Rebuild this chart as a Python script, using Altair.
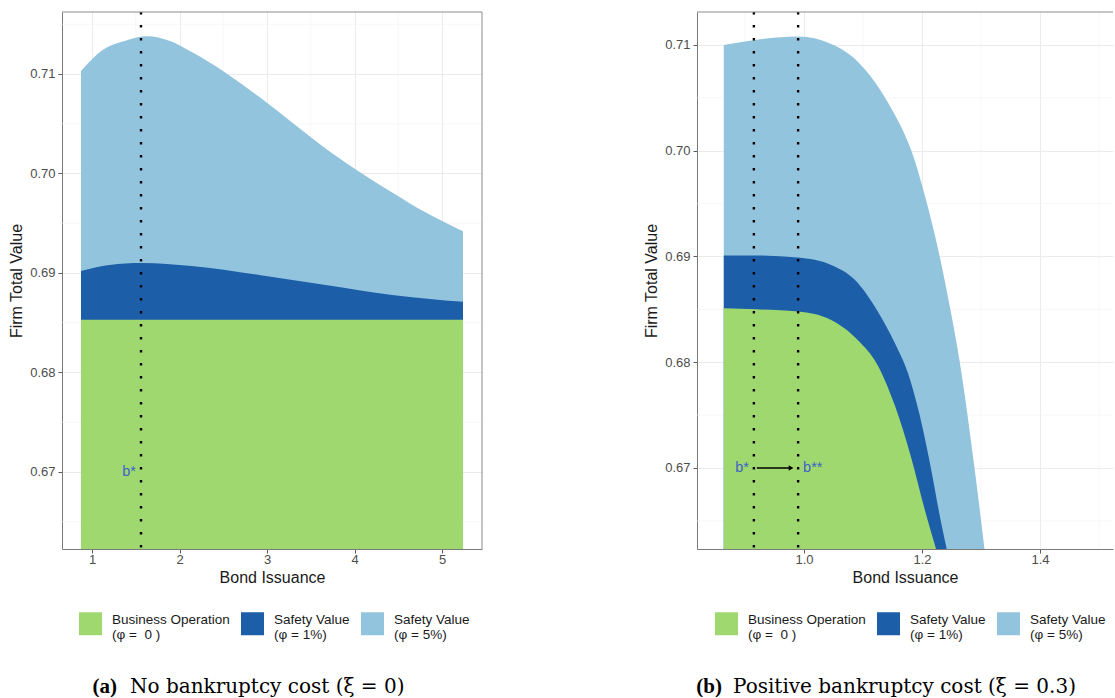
import altair as alt
import pandas as pd

# ---------------- data ----------------
NB = "\u00a0"
SERIES_KEYS = ["oper", "s1", "s5"]
SERIES_LABELS = [
    "Business Operation\n" + NB + "(φ =" + NB + NB + "0" + NB + ")",
    "Safety Value\n" + NB + "(φ = 1%)",
    "Safety Value\n" + NB + "(φ = 5%)",
]
SERIES_COLORS = ["#a0d870", "#1c5ea8", "#93c4de"]

# Panel (a): no bankruptcy cost
A_X_OPER = [0.874, 5.24]
A_Y_OPER = [0.6853, 0.6853]
A_X_S1 = [0.874, 1.2, 1.57, 2.14, 2.91, 3.67, 4.43, 5.24]
A_Y_S1 = [0.6902, 0.6908, 0.6910, 0.6907, 0.6898, 0.6888, 0.6878, 0.6871]
A_X_S5 = [0.874, 1.12, 1.4, 1.62, 1.9, 2.14, 2.53, 2.91, 3.29, 3.67, 4.05, 4.43, 4.81, 5.24]
A_Y_S5 = [0.7103, 0.7124, 0.7134, 0.7138, 0.7133, 0.7122, 0.7101, 0.7077, 0.7051, 0.7025, 0.7002, 0.6981, 0.6961, 0.6942]
A_BSTAR = [1.56]

# Panel (b): positive bankruptcy cost
B_X_OPER = [0.864, 0.92, 0.99, 1.046, 1.091, 1.125, 1.154, 1.182, 1.204, 1.224]
B_Y_OPER = [0.6851, 0.6850, 0.6848, 0.6840, 0.6821, 0.6797, 0.6759, 0.6709, 0.6662, 0.6623]
B_X_S1 = [0.864, 0.92, 0.99, 1.046, 1.086, 1.125, 1.154, 1.176, 1.196, 1.215, 1.230, 1.242]
B_Y_S1 = [0.6901, 0.6901, 0.6899, 0.6892, 0.6878, 0.6848, 0.6818, 0.6790, 0.6750, 0.6700, 0.6655, 0.6623]
B_X_S5 = [0.864, 0.92, 0.99, 1.046, 1.086, 1.120, 1.148, 1.171, 1.182, 1.206, 1.230, 1.248, 1.264, 1.289, 1.306]
B_Y_S5 = [0.7100, 0.7105, 0.7108, 0.7101, 0.7087, 0.7065, 0.7040, 0.7015, 0.7000, 0.6955, 0.6900, 0.6850, 0.6800, 0.6700, 0.6623]
B_BSTAR = [0.915, 0.99]
B_ARROW = [0.920, 0.978]  # arrow from b* to b**
ANNOT_Y = 0.67

A_X_TICKS = [1, 2, 3, 4, 5]
A_X_MINOR = [1.5, 2.5, 3.5, 4.5]
A_Y_TICKS = [0.67, 0.68, 0.69, 0.70, 0.71]
A_Y_MINOR = [0.665, 0.675, 0.685, 0.695, 0.705, 0.715]
B_X_TICKS = [1.0, 1.2, 1.4]
B_X_MINOR = [0.9, 1.1, 1.3, 1.5]
B_Y_TICKS = [0.67, 0.68, 0.69, 0.70, 0.71]
B_Y_MINOR = [0.665, 0.675, 0.685, 0.695, 0.705]

CAPTION_A = ("(a)", "No bankruptcy cost (ξ = 0)")
CAPTION_B = ("(b)", "Positive bankruptcy cost (ξ = 0.3)")

# ---------------- layout constants ----------------
H = 537
WA = 420
WB = 416
A_XDOM = [0.657, 5.457]
A_YDOM = [0.66226, 0.71623]
B_XDOM = [0.8186, 1.5237]
B_YDOM = [0.66234, 0.71312]
FONT = "Liberation Sans"
BLUE_TXT = "#3d63c9"


def long_df(xs_list, ys_list):
    rows = []
    for key, lab, xs, ys in zip(SERIES_KEYS, SERIES_LABELS, xs_list, ys_list):
        for x, y in zip(xs, ys):
            rows.append({"x": x, "y": y, "k": key, "s": lab})
    return pd.DataFrame(rows)


def panel(df, xdom, ydom, xticks, xminor, yticks, yminor, xfmt, width, bstar,
          caption, cap_x, legend_x, arrow=None, right_border=True):
    xs = alt.Scale(domain=xdom, nice=False, zero=False)
    ys = alt.Scale(domain=ydom, nice=False, zero=False)
    xax = alt.Axis(values=xticks, format=xfmt, title="Bond Issuance", grid=True)
    yax = alt.Axis(values=yticks, format=".2f", title="Firm Total Value", grid=True)
    X = lambda f="x": alt.X(f, type="quantitative", scale=xs, axis=xax)
    Y = lambda f="y": alt.Y(f, type="quantitative", scale=ys, axis=yax)

    legend = alt.Legend(
        orient="none", legendX=legend_x, legendY=600, direction="horizontal", title=None,
        symbolType="square", symbolSize=529, symbolStrokeWidth=0, symbolOpacity=1,
        labelFont=FONT, labelFontSize=13.5, labelColor="#1a1a1a", labelOffset=10,
        labelBaseline="alphabetic",
        columnPadding=11, padding=0, labelLimit=0,
        labelExpr="split(datum.label, '\\n')",
    )
    color = alt.Color("s:N", scale=alt.Scale(domain=SERIES_LABELS, range=SERIES_COLORS), legend=legend)

    layers = []
    # minor grid
    layers.append(alt.Chart(pd.DataFrame({"x": xminor})).mark_rule(color="#f2f2f2", strokeWidth=0.6).encode(x=X()))
    layers.append(alt.Chart(pd.DataFrame({"y": yminor})).mark_rule(color="#f2f2f2", strokeWidth=0.6).encode(y=Y()))
    # areas (light blue first, green on top)
    for key in ["s5", "s1", "oper"]:
        layers.append(
            alt.Chart(df).transform_filter(alt.datum.k == key)
            .mark_area(interpolate="monotone", clip=True, opacity=1)
            .encode(x=X(), y=Y(), y2=alt.value(H), color=color)
        )
    # dotted b* lines
    layers.append(
        alt.Chart(pd.DataFrame({"x": bstar})).mark_rule(color="black", strokeWidth=2.4, strokeDash=[2.4, 10.6])
        .encode(x=X())
    )
    # labels
    layers.append(
        alt.Chart(pd.DataFrame({"x": [bstar[0]], "y": [ANNOT_Y], "t": ["b*"]}))
        .mark_text(align="right", dx=-5, baseline="middle", font=FONT, fontSize=14.5, color=BLUE_TXT)
        .encode(x=X(), y=Y(), text="t:N")
    )
    if len(bstar) > 1:
        layers.append(
            alt.Chart(pd.DataFrame({"x": [bstar[1]], "y": [ANNOT_Y], "t": ["b**"]}))
            .mark_text(align="left", dx=5, baseline="middle", font=FONT, fontSize=14.5, color=BLUE_TXT)
            .encode(x=X(), y=Y(), text="t:N")
        )
    if arrow is not None:
        layers.append(
            alt.Chart(pd.DataFrame({"x": [arrow[0]], "x2": [arrow[1]], "y": [ANNOT_Y]}))
            .mark_rule(color="black", strokeWidth=1.5)
            .encode(x=X(), x2="x2:Q", y=Y())
        )
        layers.append(
            alt.Chart(pd.DataFrame({"x": [arrow[1]], "y": [ANNOT_Y]}))
            .mark_point(shape="triangle-right", filled=True, size=30, color="black", opacity=1)
            .encode(x=X(), y=Y())
        )
    # frame: top and right
    layers.append(
        alt.Chart(pd.DataFrame({"a": [0]})).mark_rule(color="#8c8c8c", strokeWidth=1)
        .encode(x=alt.value(0), x2=alt.value(width), y=alt.value(0))
    )
    if right_border:
        layers.append(
            alt.Chart(pd.DataFrame({"a": [0]})).mark_rule(color="#8c8c8c", strokeWidth=1)
            .encode(x=alt.value(width), y=alt.value(0), y2=alt.value(H))
        )
    # caption
    layers.append(
        alt.Chart(pd.DataFrame({"t": [caption[0]]}))
        .mark_text(align="right", baseline="middle", font="Liberation Serif", fontSize=21, fontWeight="bold", color="black")
        .encode(x=alt.value(cap_x[0]), y=alt.value(675), text="t:N")
    )
    layers.append(
        alt.Chart(pd.DataFrame({"t": [caption[1]]}))
        .mark_text(align="left", baseline="middle", font="DejaVu Serif", fontSize=20, color="black")
        .encode(x=alt.value(cap_x[1]), y=alt.value(675), text="t:N")
    )
    return alt.layer(*layers).properties(width=width, height=H)


df_a = long_df([A_X_OPER, A_X_S1, A_X_S5], [A_Y_OPER, A_Y_S1, A_Y_S5])
df_b = long_df([B_X_OPER, B_X_S1, B_X_S5], [B_Y_OPER, B_Y_S1, B_Y_S5])

left = panel(df_a, A_XDOM, A_YDOM, A_X_TICKS, A_X_MINOR, A_Y_TICKS, A_Y_MINOR, "d", WA,
             A_BSTAR, CAPTION_A, (55, 68), 17)
right = panel(df_b, B_XDOM, B_YDOM, B_X_TICKS, B_X_MINOR, B_Y_TICKS, B_Y_MINOR, ".1f", WB,
              B_BSTAR, CAPTION_B, (25, 36), 18, arrow=B_ARROW, right_border=False)

chart = (
    alt.hconcat(left, right, spacing=160)
    .resolve_scale(x="independent", y="independent", color="independent")
    .resolve_legend(color="independent")
    .properties(padding={"left": 8, "top": 10, "right": 0, "bottom": 0}, background="white")
    .configure_view(stroke=None)
    .configure_axis(
        labelFont=FONT, labelFontSize=13, labelColor="#4d4d4d",
        titleFont=FONT, titleFontSize=16, titleFontWeight="normal", titleColor="#1a1a1a",
        tickColor="#5a5a5a", tickSize=4, labelPadding=2,
        domainColor="#7a7a7a", gridColor="#ebebeb", gridWidth=1,
    )
    .configure_axisX(titlePadding=3, labelPadding=0)
    .configure_axisY(titlePadding=5, labelPadding=3)
)

chart.save("out.html", embed_options={"renderer": "svg", "actions": False})
